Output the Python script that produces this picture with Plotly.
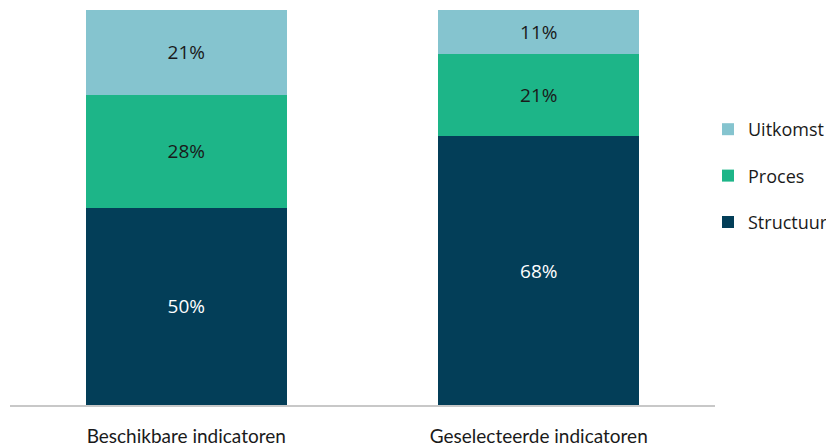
import plotly.graph_objects as go

categories = ["Beschikbare indicatoren", "Geselecteerde indicatoren"]
structuur = [49.9, 68.1]
proces = [28.6, 20.8]
uitkomst = [21.5, 11.1]
structuur_lbl = ["50%", "68%"]
proces_lbl = ["28%", "21%"]
uitkomst_lbl = ["21%", "11%"]

series = [
    ("Structuur", structuur, structuur_lbl, "#033E58", "white", 3),
    ("Proces", proces, proces_lbl, "#1DB588", "#1a1a1a", 2),
    ("Uitkomst", uitkomst, uitkomst_lbl, "#85C4CF", "#1a1a1a", 1),
]

fig = go.Figure()
for name, vals, lbls, col, tcol, rank in series:
    fig.add_trace(go.Bar(
        x=categories, y=vals, name=name, text=lbls,
        textposition="inside", insidetextanchor="middle",
        textfont=dict(color=tcol, size=19, family="Open Sans"),
        marker=dict(color=col, line=dict(width=0)),
        legendgroup=name, legendrank=rank, hoverinfo="skip",
    ))

# page body has an 8px default margin; figure is sized so plot lands at page coords
W, H = 826, 438
fig.update_layout(
    barmode="stack", bargap=0.43,
    width=W, height=H,
    margin=dict(l=2, r=119, t=2, b=41, autoexpand=False),
    plot_bgcolor="white", paper_bgcolor="white",
    font=dict(family="Lato", color="#1a1a1a"),
    showlegend=True,
    legend=dict(xref="container", x=700 / W, xanchor="left",
                yref="container", y=1 - 168 / H, yanchor="middle",
                traceorder="grouped", tracegroupgap=20,
                bgcolor="rgba(0,0,0,0)",
                font=dict(size=18, family="Open Sans"), itemwidth=30),
)
fig.update_xaxes(showline=True, linecolor="#c8c8c8", linewidth=2,
                 tickfont=dict(size=19, family="Lato"), ticks="",
                 ticklabelstandoff=13, automargin=False)
fig.update_yaxes(range=[0, 100], visible=False, showgrid=False, automargin=False)

fig.write_html("out.html")
